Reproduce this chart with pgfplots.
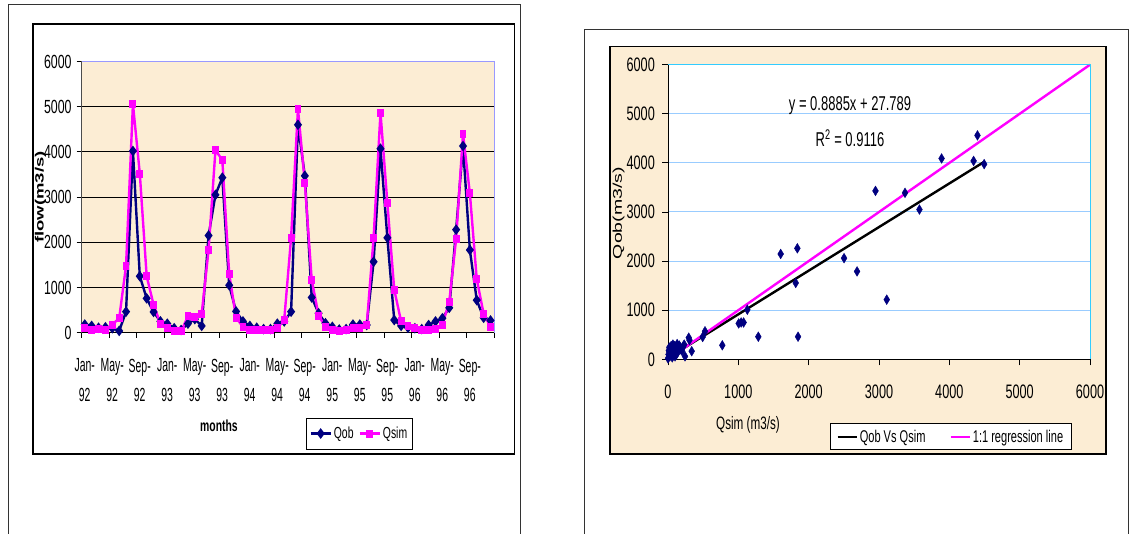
\documentclass[border=0pt]{standalone}
\usepackage{fontspec}
\setmainfont{Liberation Sans}[FakeStretch=0.65]
\newfontfamily\rotfont{Liberation Sans}
\newfontfamily\narrowfont{Liberation Sans}[FakeStretch=0.55]
\usepackage{graphicx}
\usepackage{pgfplots}
\pgfplotsset{compat=1.18}
\usepackage{pgfplotstable}

\definecolor{navy}{RGB}{0,0,128}
\definecolor{mag}{RGB}{255,0,255}
\definecolor{beige}{RGB}{252,237,212}
\definecolor{lav}{RGB}{153,153,255}
\definecolor{gridblue}{RGB}{153,204,255}
\definecolor{cyanb}{RGB}{51,204,255}

\pgfplotstableread{
i qob qsim
0 180 100
1 150 60
2 110 80
3 120 70
4 100 180
5 40 320
6 465 1480
7 4020 5060
8 1250 3520
9 760 1250
10 460 620
11 250 200
12 200 100
13 100 40
14 60 30
15 200 360
16 300 350
17 150 420
18 2150 1830
19 3050 4040
20 3430 3820
21 1050 1300
22 470 330
23 250 130
24 150 60
25 110 60
26 80 50
27 80 50
28 200 100
29 250 280
30 465 2100
31 4600 4950
32 3470 3320
33 780 1170
34 430 380
35 210 130
36 130 60
37 70 40
38 80 50
39 180 100
40 180 100
41 170 170
42 1570 2100
43 4070 4870
44 2100 2870
45 280 950
46 150 250
47 110 150
48 100 100
49 80 50
50 170 50
51 250 80
52 320 180
53 550 680
54 2280 2080
55 4130 4400
56 1830 3080
57 720 1180
58 330 420
59 270 130
}\flowdata

\pgfplotstableread{
qsim qob
4400 4560
4345 4040
4495 3975
3890 4090
3370 3390
3575 3050
2950 3430
3110 1215
2503 2060
2688 1790
1602 2145
1839 2260
1816 1555
1849 460
1128 1010
1005 730
1040 750
1075 750
1284 460
772 285
526 570
493 455
337 165
295 440
305 390
242 60
0 20
8 100
12 180
18 240
25 60
30 130
35 200
45 270
50 90
55 160
65 230
70 300
80 120
85 200
95 270
100 60
110 180
120 240
130 310
140 150
150 220
160 280
170 250
185 200
200 170
215 260
230 300
60 40
20 150
120 100
}\scatterdata

\begin{document}
\begin{tikzpicture}
\begin{scope}[x=1pt,y=1pt]
\useasboundingbox (0,0) rectangle (1130,533);
\fill[white] (0,0) rectangle (1130,533);
% left frames
\draw[line width=1pt, black!80] (8.5,-2) -- (8.5,528) -- (520.5,528) -- (520.5,-2);
\draw[line width=1.5pt] (32.8,79) rectangle (514.4,509.2);
% right frames
\draw[line width=1pt, black!80] (584.2,-2) -- (584.2,503.7) -- (1128.5,503.7) -- (1128.5,-2);
\draw[line width=1.5pt, fill=beige] (609.8,79) rectangle (1105.8,486.4);
\end{scope}

% ---------------- left: hydrograph ----------------
\begin{axis}[
  at={(81.7pt,200.3pt)}, anchor=south west,
  scale only axis, width=412.6pt, height=271.2pt,
  xmin=0, xmax=60, ymin=0, ymax=6000,
  axis line style={draw=none},
  axis background/.style={fill=beige},
  xtick={0,4,...,60},
  xticklabels={{Jan-\\92},{May-\\92},{Sep-\\92},{Jan-\\93},{May-\\93},{Sep-\\93},{Jan-\\94},{May-\\94},{Sep-\\94},{Jan-\\95},{May-\\95},{Sep-\\95},{Jan-\\96},{May-\\96},{Sep-\\96},{}},
  xticklabel style={align=center, font=\narrowfont\fontsize{19}{29.5}\selectfont, anchor=north, inner sep=0pt, yshift=-21pt, xshift=3pt},
  ytick={0,1000,...,6000},
  yticklabel style={font=\fontsize{19}{19}\selectfont, anchor=east, inner sep=0pt, xshift=-5pt},
  scaled ticks=false,
  /pgf/number format/1000 sep={},
  /pgf/number format/assume math mode=true,
  ymajorgrids, grid style={black, line width=0.9pt},
  tick align=outside, major tick length=5pt,
  xtick pos=left, ytick pos=left,
  tick style={black, line width=0.8pt},
  clip=false,
  legend style={at={(0.5436,-0.3127)}, anchor=north west, draw=black, line width=1pt, fill=white,
    font=\fontsize{16}{16}\selectfont, inner xsep=3pt, inner ysep=7pt,
    /tikz/every even column/.append style={column sep=3pt}},
  legend columns=2,
  legend image code/.code={\draw[mark repeat=2,mark phase=2] plot coordinates {(0pt,0pt) (10pt,0pt) (20pt,0pt)};},
]
\addplot[navy, line width=2.4pt, mark=diamond*, mark size=3.4pt, mark options={solid, fill=navy}]
  table[x expr=\thisrow{i}+0.45, y=qob] {\flowdata};
\addlegendentry{Qob}
\addplot[mag, line width=2.4pt, mark=square*, mark size=2.8pt, mark options={solid, fill=mag, xscale=0.8}]
  table[x expr=\thisrow{i}+0.45, y=qsim] {\flowdata};
\addlegendentry{Qsim}
\draw[line width=1pt, black!70] (rel axis cs:0,0) -- (rel axis cs:0,1);
\draw[line width=1pt, black] (rel axis cs:0,0) -- (rel axis cs:1,0);
\draw[line width=1pt, lav] (rel axis cs:0,1) -- (rel axis cs:1,1) -- (rel axis cs:1,0);
\end{axis}

% ---------------- right: scatter ----------------
\begin{axis}[
  at={(668pt,173.7pt)}, anchor=south west,
  scale only axis, width=422pt, height=294.6pt,
  xmin=0, xmax=6000, ymin=0, ymax=6000,
  axis line style={draw=none},
  axis background/.style={fill=white},
  xtick={0,1000,...,6000}, ytick={0,1000,...,6000},
  xticklabel style={font=\fontsize{19.5}{19.5}\selectfont, anchor=north, inner sep=0pt, yshift=-19pt},
  yticklabel style={font=\fontsize{19.5}{19.5}\selectfont, anchor=east, inner sep=0pt, xshift=-7pt},
  scaled ticks=false,
  /pgf/number format/1000 sep={},
  /pgf/number format/assume math mode=true,
  ymajorgrids, grid style={gridblue, line width=1pt},
  tick align=outside, major tick length=6pt,
  xtick pos=left, ytick pos=left,
  tick style={black, line width=0.8pt},
  clip=false,
  legend style={at={(0.3836,-0.2179)}, anchor=north west, draw=black, line width=1pt, fill=white,
    font=\fontsize{17}{17}\selectfont, inner xsep=6pt, inner ysep=4pt,
    /tikz/every even column/.append style={column sep=22pt}},
  legend columns=2,
  legend image code/.code={\draw plot coordinates {(0pt,0pt) (19pt,0pt)};},
]
\addplot[black, line width=2.4pt] coordinates {(0,27.789) (4500,4026)};
\addlegendentry{Qob Vs Qsim}
\addplot[mag, line width=2.4pt] coordinates {(0,0) (6000,6000)};
\addlegendentry{1:1 regression line}
\addplot[only marks, forget plot, navy, mark=diamond*, mark size=3.9pt, mark options={fill=navy, yscale=1.25}]
  table[x=qsim, y=qob] {\scatterdata};
\draw[line width=1pt, black] (rel axis cs:0,1) -- (rel axis cs:0,0) -- (rel axis cs:1,0);
\draw[line width=1pt, cyanb] (rel axis cs:0,1) -- (rel axis cs:1,1) -- (rel axis cs:1,0);
\end{axis}

\begin{scope}[x=1pt,y=1pt]
\node[font=\bfseries\fontsize{16}{16}\selectfont] at (219,107.3) {months};
\node[rotate=90] at (40.6,336) {\scalebox{1}[0.65]{\rotfont\bfseries\fontsize{18.5}{18.5}\selectfont flow(m3/s)}};
\node[rotate=90] at (618.6,320) {\scalebox{1}[0.65]{\rotfont\fontsize{19.5}{19.5}\selectfont Qob(m3/s)}};
\node[font=\fontsize{18}{18}\selectfont] at (748,108) {Qsim (m3/s)};
\node[font=\fontsize{20}{20}\selectfont] at (850,427.2) {y = 0.8885x + 27.789};
\node[font=\fontsize{20}{20}\selectfont] at (850,395) {R\textsuperscript{2} = 0.9116};
\end{scope}
\end{tikzpicture}
\end{document}
